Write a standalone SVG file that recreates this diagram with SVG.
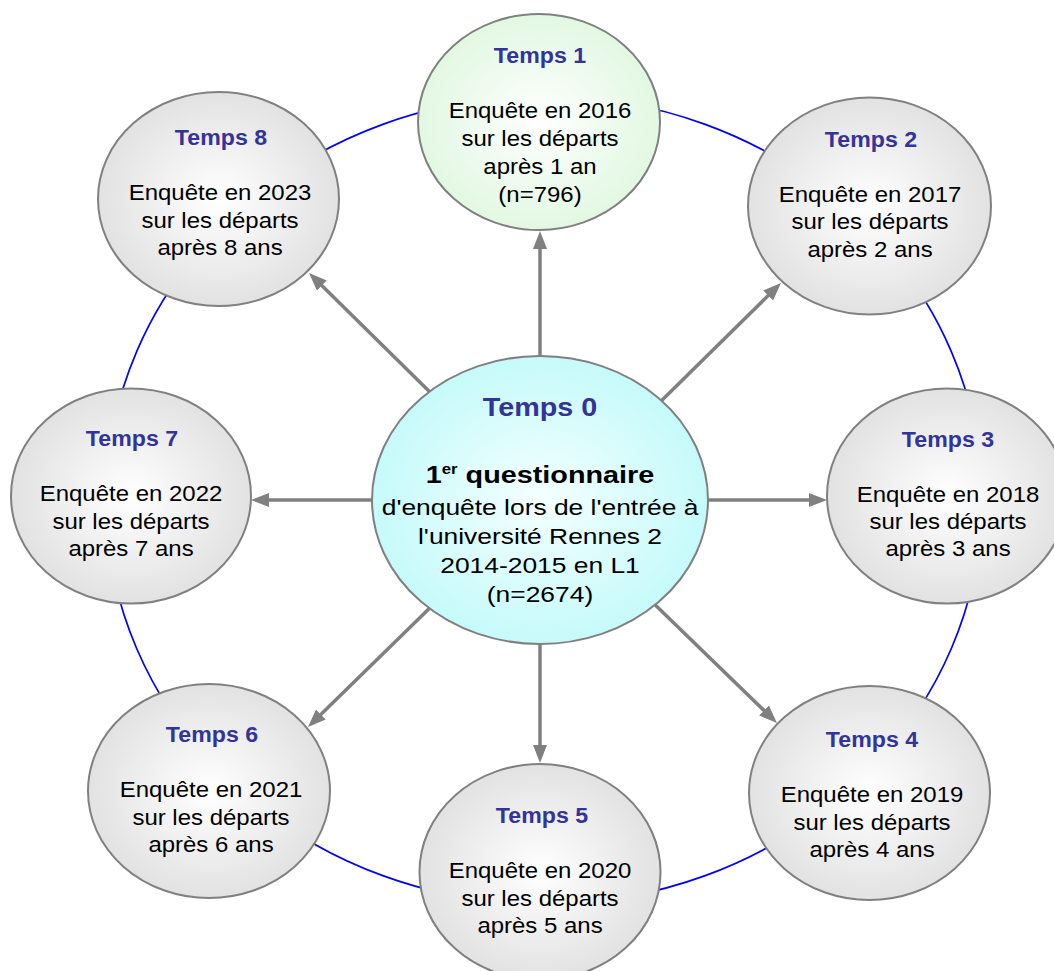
<svg xmlns="http://www.w3.org/2000/svg" width="1054" height="971" viewBox="0 0 1054 971">
<style>
.node{stroke:#808080;stroke-width:2}
.t{font-family:"Liberation Sans",Arial,sans-serif;text-anchor:middle}
.title{font-size:22.5px;font-weight:bold;fill:#333399}
.body{font-size:22px;fill:#000}
.conn{stroke:#808080;stroke-width:3.5;fill:none;marker-end:url(#ah)}
</style>
<defs>
<radialGradient id="gGray" cx="0.5" cy="0.5" r="0.5">
<stop offset="0" stop-color="#ffffff"/>
<stop offset="1" stop-color="#e2e2e2"/>
</radialGradient>
<radialGradient id="gGreen" cx="0.5" cy="0.5" r="0.5">
<stop offset="0" stop-color="#ffffff"/>
<stop offset="1" stop-color="#e2f8e2"/>
</radialGradient>
<radialGradient id="gCyan" cx="0.5" cy="0.5" r="0.5">
<stop offset="0" stop-color="#f4ffff"/>
<stop offset="1" stop-color="#c6fafa"/>
</radialGradient>
<marker id="ah" markerUnits="userSpaceOnUse" markerWidth="20" markerHeight="16" refX="4" refY="7" orient="auto">
<path d="M0,0 L18,7 L0,14 z" fill="#808080"/>
</marker>
</defs>
<g id="ring">
<ellipse cx="544" cy="500" rx="438" ry="404" fill="none" stroke="#0000ff" stroke-width="1.7"/>
</g>
<g id="connectors">
<line class="conn" x1="540" y1="380" x2="540" y2="245"/>
<line class="conn" x1="650" y1="412" x2="771" y2="292.8"/>
<line class="conn" x1="690" y1="500" x2="813" y2="500"/>
<line class="conn" x1="645" y1="595" x2="766.9" y2="713.3"/>
<line class="conn" x1="540" y1="620" x2="540" y2="749"/>
<line class="conn" x1="440" y1="598" x2="318" y2="717.2"/>
<line class="conn" x1="390" y1="500" x2="265" y2="500"/>
<line class="conn" x1="440" y1="402" x2="319" y2="282.8"/>
</g>
<g id="temps1">
<ellipse class="node" cx="539" cy="122" rx="121" ry="108" fill="url(#gGreen)"/>
<text class="t title" transform="translate(540,0) scale(1.03,1)" x="0" y="63">Temps 1</text>
<g transform="translate(540,0) scale(1.09,1)">
<text class="t body" x="0" y="118">Enquête en 2016</text>
<text class="t body" x="0" y="146">sur les départs</text>
<text class="t body" x="0" y="174">après 1 an</text>
<text class="t body" x="0" y="202">(n=796)</text>
</g>
</g>
<g id="temps2">
<ellipse class="node" cx="869.5" cy="206" rx="121.5" ry="108.5" fill="url(#gGray)"/>
<text class="t title" transform="translate(871,0) scale(1.03,1)" x="0" y="147">Temps 2</text>
<g transform="translate(870,0) scale(1.09,1)">
<text class="t body" x="0" y="202">Enquête en 2017</text>
<text class="t body" x="0" y="229">sur les départs</text>
<text class="t body" x="0" y="257">après 2 ans</text>
</g>
</g>
<g id="temps3">
<ellipse class="node" cx="947" cy="496" rx="120" ry="107.5" fill="url(#gGray)"/>
<text class="t title" transform="translate(948,0) scale(1.03,1)" x="0" y="447">Temps 3</text>
<g transform="translate(948,0) scale(1.09,1)">
<text class="t body" x="0" y="502">Enquête en 2018</text>
<text class="t body" x="0" y="529">sur les départs</text>
<text class="t body" x="0" y="556">après 3 ans</text>
</g>
</g>
<g id="temps4">
<ellipse class="node" cx="869.5" cy="793" rx="120.5" ry="107" fill="url(#gGray)"/>
<text class="t title" transform="translate(872,0) scale(1.03,1)" x="0" y="747">Temps 4</text>
<g transform="translate(872,0) scale(1.09,1)">
<text class="t body" x="0" y="802">Enquête en 2019</text>
<text class="t body" x="0" y="830">sur les départs</text>
<text class="t body" x="0" y="857">après 4 ans</text>
</g>
</g>
<g id="temps5">
<ellipse class="node" cx="540" cy="872" rx="120.5" ry="108" fill="url(#gGray)"/>
<text class="t title" transform="translate(542,0) scale(1.03,1)" x="0" y="823">Temps 5</text>
<g transform="translate(540,0) scale(1.09,1)">
<text class="t body" x="0" y="878">Enquête en 2020</text>
<text class="t body" x="0" y="906">sur les départs</text>
<text class="t body" x="0" y="933">après 5 ans</text>
</g>
</g>
<g id="temps6">
<ellipse class="node" cx="209" cy="791" rx="121" ry="107" fill="url(#gGray)"/>
<text class="t title" transform="translate(212,0) scale(1.03,1)" x="0" y="742">Temps 6</text>
<g transform="translate(211,0) scale(1.09,1)">
<text class="t body" x="0" y="797">Enquête en 2021</text>
<text class="t body" x="0" y="825">sur les départs</text>
<text class="t body" x="0" y="852">après 6 ans</text>
</g>
</g>
<g id="temps7">
<ellipse class="node" cx="131" cy="496" rx="120" ry="107.5" fill="url(#gGray)"/>
<text class="t title" transform="translate(132,0) scale(1.03,1)" x="0" y="446">Temps 7</text>
<g transform="translate(131,0) scale(1.09,1)">
<text class="t body" x="0" y="501">Enquête en 2022</text>
<text class="t body" x="0" y="529">sur les départs</text>
<text class="t body" x="0" y="556">après 7 ans</text>
</g>
</g>
<g id="temps8">
<ellipse class="node" cx="218.5" cy="199" rx="120.5" ry="107" fill="url(#gGray)"/>
<text class="t title" transform="translate(221,0) scale(1.03,1)" x="0" y="145">Temps 8</text>
<g transform="translate(220,0) scale(1.09,1)">
<text class="t body" x="0" y="200">Enquête en 2023</text>
<text class="t body" x="0" y="228">sur les départs</text>
<text class="t body" x="0" y="255">après 8 ans</text>
</g>
</g>
<g id="temps0">
<ellipse class="node" cx="540" cy="500" rx="168" ry="144" fill="url(#gCyan)"/>
<text class="t" transform="translate(540,0) scale(1.15,1)" x="0" y="416" style="font-size:25px;font-weight:bold;fill:#333399">Temps 0</text>
<g transform="translate(540,0) scale(1.2,1)">
<text class="t" x="0" y="483" style="font-size:24px;font-weight:bold;fill:#000">1<tspan font-size="14" dy="-9">er</tspan><tspan dy="9"> questionnaire</tspan></text>
<text class="t body" x="0" y="515">d'enquête lors de l'entrée à</text>
<text class="t body" x="0" y="544">l'université Rennes 2</text>
<text class="t body" x="0" y="573">2014-2015 en L1</text>
<text class="t body" x="0" y="602">(n=2674)</text>
</g>
</g>
</svg>
